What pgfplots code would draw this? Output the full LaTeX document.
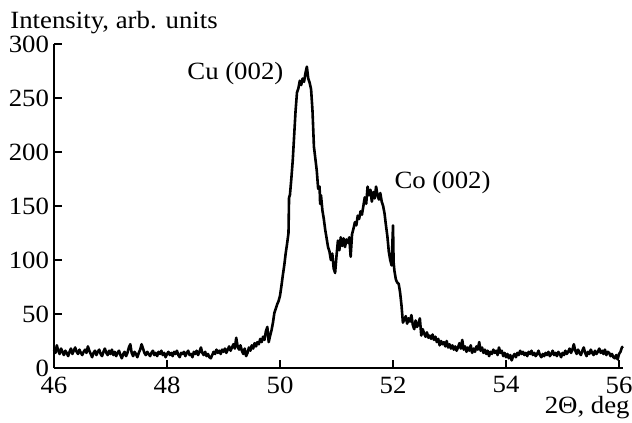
\documentclass[border=0pt,12pt]{standalone}
\usepackage{fontspec}
\setmainfont{Liberation Serif}[FakeStretch=1.08]
\usepackage{pgfplots}
\pgfplotsset{compat=1.18}
\begin{document}
\fontsize{12.4}{14}\selectfont
\begin{tikzpicture}
\path[use as bounding box] (0,0) rectangle (316pt,-211.5pt);
\begin{axis}[
  at={(27pt,-184pt)}, anchor=south west,
  scale only axis, width=284.5pt, height=162pt,
  xmin=46, xmax=56.07, ymin=0, ymax=300,
  axis x line*=bottom, axis y line*=left,
  axis line style={line width=0.6pt},
  tick align=inside, major tick length=3.8pt,
  tick style={line width=0.6pt, black},
  xtick={46,48,...,56}, ytick={0,50,...,300},
  /pgf/number format/assume math mode=true,
  tick label style={font=\fontsize{12.4}{14}\selectfont},
  yticklabel style={xshift=1.8pt},
  ylabel={Intensity, arb. units},
  ylabel style={rotate=-90, at={(axis description cs:-0.0773,1.049)}, anchor=base west, inner sep=0pt, font=\fontsize{12.4}{14}\selectfont},
  xlabel={2Θ, deg},
  xlabel style={at={(axis description cs:1.0123,-0.139)}, anchor=base east, inner sep=0pt, font=\fontsize{12.4}{14}\selectfont},
  clip=false,
]
\addplot[black, line width=1.3pt, line join=round] coordinates {
(46.000,17)(46.025,14)(46.050,21)(46.075,16)(46.100,13)(46.125,18)(46.150,15)(46.175,12)(46.200,16)(46.225,14)
(46.250,11)(46.275,15)(46.300,18)(46.325,13)(46.350,16)(46.375,19)(46.400,15)(46.425,13)(46.450,17)(46.475,14)
(46.500,12)(46.525,15)(46.550,17)(46.575,14)(46.600,20)(46.625,16)(46.650,13)(46.675,10)(46.700,14)(46.725,16)
(46.750,12)(46.775,15)(46.800,17)(46.825,13)(46.850,11)(46.875,15)(46.900,18)(46.925,14)(46.950,12)(46.975,16)
(47.000,13)(47.025,17)(47.050,12)(47.075,15)(47.100,11)(47.125,14)(47.150,16)(47.175,12)(47.200,9)(47.225,13)
(47.250,15)(47.275,11)(47.300,14)(47.325,19)(47.350,22)(47.375,14)(47.400,11)(47.425,15)(47.450,13)(47.475,10)
(47.500,14)(47.525,17)(47.550,22)(47.575,18)(47.600,14)(47.625,12)(47.650,15)(47.675,13)(47.700,11)(47.725,14)
(47.750,16)(47.775,12)(47.800,14)(47.825,11)(47.850,15)(47.875,13)(47.900,16)(47.925,12)(47.950,14)(47.975,10)
(48.000,13)(48.025,15)(48.050,12)(48.075,14)(48.100,11)(48.125,15)(48.150,13)(48.175,16)(48.200,12)(48.225,10)
(48.250,14)(48.275,13)(48.300,15)(48.325,11)(48.350,14)(48.375,16)(48.400,12)(48.425,13)(48.450,10)(48.475,15)
(48.500,13)(48.525,16)(48.550,12)(48.575,15)(48.600,19)(48.625,14)(48.650,12)(48.675,15)(48.700,11)(48.725,13)
(48.750,10)(48.775,9)(48.800,12)(48.825,15)(48.850,13)(48.875,17)(48.900,14)(48.925,16)(48.950,13)(48.975,17)
(49.000,15)(49.025,18)(49.050,14)(49.075,17)(49.100,20)(49.125,16)(49.150,19)(49.175,22)(49.200,18)(49.225,28)
(49.250,20)(49.275,17)(49.300,21)(49.325,16)(49.350,13)(49.375,18)(49.400,11)(49.425,14)(49.450,19)(49.475,16)
(49.500,21)(49.525,18)(49.550,23)(49.575,20)(49.600,24)(49.625,22)(49.650,27)(49.675,24)(49.700,29)(49.725,26)
(49.750,34)(49.775,38)(49.800,24)(49.825,30)(49.850,35)(49.875,42)(49.900,51)(49.925,55)(49.950,59)(49.975,62)
(50.000,67)(50.025,76)(50.050,86)(50.075,95)(50.100,106)(50.125,115)(50.150,125)(50.160,158)(50.175,160)(50.200,175)
(50.225,192)(50.250,215)(50.275,238)(50.300,255)(50.325,259)(50.350,266)(50.375,262)(50.400,268)(50.425,265)(50.450,273)
(50.475,279)(50.500,268)(50.525,264)(50.550,258)(50.575,238)(50.600,205)(50.625,194)(50.650,183)(50.675,166)(50.700,168)
(50.710,152)(50.725,160)(50.750,146)(50.775,138)(50.800,128)(50.825,120)(50.850,112)(50.875,108)(50.900,100)(50.925,106)
(50.950,92)(50.975,88)(51.000,104)(51.025,118)(51.050,109)(51.075,121)(51.100,113)(51.125,120)(51.150,112)(51.175,119)
(51.200,116)(51.225,121)(51.250,103)(51.275,124)(51.300,129)(51.325,135)(51.350,132)(51.375,141)(51.400,138)(51.425,145)
(51.450,142)(51.475,150)(51.500,158)(51.525,152)(51.550,168)(51.575,160)(51.600,165)(51.625,154)(51.650,163)(51.675,157)
(51.700,168)(51.725,160)(51.750,156)(51.775,162)(51.800,154)(51.825,150)(51.850,143)(51.875,132)(51.900,122)(51.925,108)
(51.950,100)(51.975,95)(52.000,132)(52.010,98)(52.025,90)(52.050,82)(52.075,79)(52.100,78)(52.125,70)(52.150,58)
(52.175,42)(52.200,45)(52.225,48)(52.250,41)(52.275,46)(52.300,43)(52.325,49)(52.350,40)(52.375,36)(52.400,44)
(52.425,38)(52.450,41)(52.475,46)(52.500,30)(52.525,36)(52.550,32)(52.575,29)(52.600,33)(52.625,28)(52.650,30)
(52.675,27)(52.700,31)(52.725,26)(52.750,29)(52.775,24)(52.800,27)(52.825,21)(52.850,25)(52.875,22)(52.900,24)
(52.925,20)(52.950,25)(52.975,19)(53.000,22)(53.025,18)(53.050,21)(53.075,17)(53.100,20)(53.125,16)(53.150,19)
(53.175,23)(53.200,18)(53.225,26)(53.250,17)(53.275,20)(53.300,15)(53.325,19)(53.350,16)(53.375,21)(53.400,14)
(53.425,18)(53.450,15)(53.475,20)(53.500,17)(53.525,24)(53.550,16)(53.575,19)(53.600,14)(53.625,17)(53.650,13)
(53.675,16)(53.700,11)(53.725,15)(53.750,13)(53.775,17)(53.800,14)(53.825,16)(53.850,12)(53.875,19)(53.900,14)
(53.925,16)(53.950,11)(53.975,14)(54.000,10)(54.025,13)(54.050,9)(54.075,12)(54.100,7)(54.125,11)(54.150,13)
(54.175,10)(54.200,14)(54.225,12)(54.250,16)(54.275,13)(54.300,15)(54.325,12)(54.350,14)(54.375,11)(54.400,15)
(54.425,13)(54.450,16)(54.475,12)(54.500,14)(54.525,11)(54.550,13)(54.575,16)(54.600,12)(54.625,10)(54.650,13)
(54.675,11)(54.700,14)(54.725,12)(54.750,15)(54.775,11)(54.800,13)(54.825,16)(54.850,12)(54.875,14)(54.900,11)
(54.925,15)(54.950,13)(54.975,10)(55.000,14)(55.025,12)(55.050,16)(55.075,13)(55.100,15)(55.125,18)(55.150,14)
(55.175,17)(55.200,22)(55.225,16)(55.250,13)(55.275,17)(55.300,14)(55.325,12)(55.350,16)(55.375,19)(55.400,14)
(55.425,11)(55.450,15)(55.475,13)(55.500,17)(55.525,14)(55.550,12)(55.575,16)(55.600,13)(55.625,15)(55.650,18)
(55.675,14)(55.700,16)(55.725,13)(55.750,17)(55.775,12)(55.800,15)(55.825,14)(55.850,11)(55.875,13)(55.900,10)
(55.925,9)(55.950,12)(55.975,8)(56.000,13)(56.025,15)(56.050,19)(56.070,20)
};
\node[anchor=base, inner sep=0pt] at (axis cs:49.21,266.7) {Cu (002)};
\node[anchor=base, inner sep=0pt] at (axis cs:52.876,166.4) {Co (002)};
\end{axis}
\end{tikzpicture}
\end{document}
